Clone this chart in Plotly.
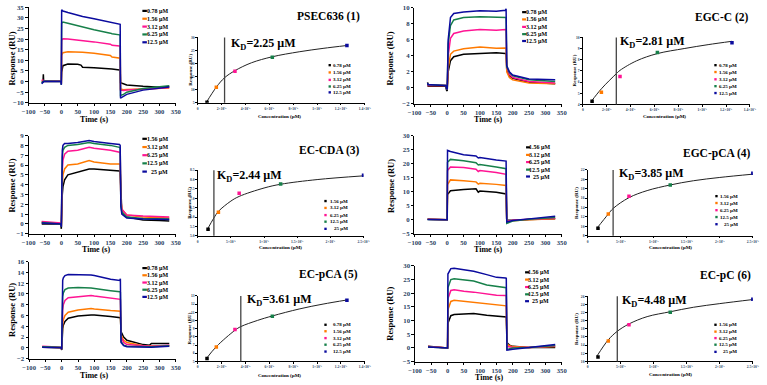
import plotly.graph_objects as go

W, H = 767, 385
SERIF = "Liberation Serif"
series_colors = ["#000000", "#FF7A00", "#FF1493", "#17804A", "#0B0B9E"]

# ---------------- data ----------------
labels_a = ["0.78 µM", "1.56 µM", "3.12 µM", "6.25 µM", "12.5 µM"]
labels_b = ["1.56 µM", "3.12 µM", "6.25 µM", "12.5 µM", "25 µM"]
conc_a = [0.78, 1.56, 3.12, 6.25, 12.5]
conc_b = [1.56, 3.12, 6.25, 12.5, 25]

titles = ["PSEC636 (1)", "EC-CDA (3)", "EC-pCA (5)", "EGC-C (2)", "EGC-pCA (4)", "EC-pC (6)"]
kd_values = [2.25, 2.44, 3.61, 2.81, 3.85, 4.48]

sens_x_ticks = [-100, -50, 0, 50, 100, 150, 200, 250, 300, 350]
conc_ticks_14 = [0, 2, 4, 6, 8, 10, 12, 14]
conc_ticktext_14 = ["0", "2×10⁻⁶", "4×10⁻⁶", "6×10⁻⁶", "8×10⁻⁶", "1×10⁻⁵", "1.2×10⁻⁵", "1.4×10⁻⁵"]
conc_ticks_25 = [0, 5, 10, 15, 20, 25]
conc_ticktext_25 = ["0", "5×10⁻⁶", "1×10⁻⁵", "1.5×10⁻⁵", "2×10⁻⁵", "2.5×10⁻⁵"]

# PSEC636 (1) sensorgram
psec_t = [-60, -56, -55, -54, -1, 0, 1, 5, 20, 50, 60, 65, 100, 150, 155, 178, 180, 181, 190, 200, 250, 300, 330]
psec_r1 = [-0.3, 0, 3.5, 0, 0, -1, 4.5, 7.5, 8.3, 8.2, 7.8, 6.8, 6.5, 6.1, 5.9, 5.5, 5.3, -0.5, -1.2, -1.6, -2.2, -2.6, -2.3]
psec_r2 = [0.5, 0.4, 0.4, 0.4, 0.3, -1, 12.5, 13.6, 14.1, 14.0, 13.9, 13.8, 13.3, 12.3, 11.6, 11.1, 11.0, -3.5, -3.8, -3.7, -3.4, -3.2, -3.0]
psec_r3 = [0.8, 0.6, 0.6, 0.5, 0.3, -1, 19.5, 20.2, 20.0, 19.6, 19.4, 19.3, 18.7, 17.6, 17.1, 16.8, 16.6, -4.0, -4.2, -4.0, -3.4, -3.1, -2.8]
psec_r4 = [-0.8, 0.3, 0.3, 0.3, 0.2, -1.5, 27.5, 28.0, 27.5, 26.3, 26.0, 25.7, 24.4, 22.8, 22.5, 22.0, 21.8, -6.5, -6.0, -5.0, -3.2, -2.4, -2.0]
psec_r5 = [-1.0, 0.0, 0.0, 0.0, 0.0, -1.5, 33.8, 33.2, 32.5, 31.3, 31.0, 30.6, 29.6, 28.1, 27.9, 27.1, 27.0, -7.8, -6.8, -6.0, -4.0, -3.0, -2.5]

# EC-CDA (3) sensorgram
cda_t = [-60, -2, 0, 1, 3, 5, 10, 20, 50, 85, 100, 150, 178, 180, 182, 185, 200, 250, 300, 330]
cda_r1 = [0.0, 0.0, -0.5, 1.5, 3.0, 3.8, 4.5, 5.0, 5.3, 5.6, 5.6, 5.5, 5.4, 5.3, 2.5, 1.2, 0.7, 0.4, 0.35, 0.3]
cda_r2 = [0.2, 0.0, -0.3, 2.0, 4.0, 5.0, 5.6, 6.0, 6.1, 6.45, 6.3, 6.1, 6.1, 6.0, 2.6, 1.5, 0.9, 0.7, 0.65, 0.6]
cda_r3 = [0.25, 0.1, -0.2, 3.0, 5.5, 6.5, 7.1, 7.4, 7.5, 7.8, 7.7, 7.5, 7.3, 7.2, 2.5, 1.5, 0.9, 0.8, 0.75, 0.7]
cda_r4 = [0.15, 0.0, -0.3, 4.0, 6.8, 7.5, 7.8, 8.0, 8.1, 8.3, 8.2, 8.0, 7.8, 7.7, 2.0, 1.2, 0.7, 0.55, 0.5, 0.5]
cda_r5 = [0.1, 0.0, -0.3, 4.5, 7.5, 8.0, 8.2, 8.2, 8.3, 8.5, 8.4, 8.2, 8.1, 8.0, 1.8, 1.0, 0.6, 0.5, 0.5, 0.45]

# EC-pCA (5) sensorgram
ecpca_t = [-60, -2, 0, 1, 3, 5, 10, 20, 50, 90, 100, 150, 178, 180, 182, 190, 200, 250, 270, 275, 330]
ecpca_r1 = [0.1, 0.0, -0.4, 2.0, 3.5, 4.2, 4.9, 5.5, 5.9, 6.1, 6.1, 5.8, 5.6, 5.6, 3.0, 2.0, 1.4, 0.6, 0.5, 0.8, 0.8]
ecpca_r2 = [0.2, 0.0, -0.3, 3.0, 4.5, 5.2, 6.0, 6.6, 7.0, 7.3, 7.2, 6.9, 6.8, 6.8, 2.4, 1.4, 1.0, 0.4, 0.35, 0.35, 0.4]
ecpca_r3 = [0.3, 0.1, -0.2, 4.5, 7.0, 8.0, 8.8, 9.3, 9.5, 9.7, 9.6, 9.2, 9.1, 9.0, 2.0, 1.0, 0.6, 0.3, 0.3, 0.3, 0.5]
ecpca_r4 = [0.2, 0.1, -0.2, 6.0, 9.5, 10.2, 10.8, 11.1, 11.2, 11.1, 11.0, 10.6, 10.4, 10.3, 1.2, 0.5, 0.3, 0.2, 0.2, 0.2, 0.4]
ecpca_r5 = [0.1, 0.0, -0.3, 8.0, 12.5, 13.0, 13.4, 13.6, 13.6, 13.5, 13.4, 12.7, 12.5, 12.8, 1.0, 0.4, 0.2, 0.1, 0.1, 0.1, 0.3]

# EGC-C (2) sensorgram
egcc_t = [-60, -58, -50, -5, -2, 0, 3, 10, 20, 50, 100, 150, 178, 180, 182, 190, 200, 250, 330]
egcc_r1 = [0.7, 0.2, 0.2, 0.2, -0.3, -0.4, 2.0, 3.4, 3.9, 4.2, 4.3, 4.4, 4.3, 4.3, 2.2, 1.5, 1.2, 0.7, 0.5]
egcc_r2 = [0.3, 0.3, 0.3, 0.3, 0.0, -0.2, 2.5, 4.2, 4.6, 4.9, 5.1, 4.95, 5.0, 5.0, 2.0, 1.3, 1.0, 0.6, 0.5]
egcc_r3 = [0.4, 0.3, 0.3, 0.3, 0.0, -0.2, 4.0, 6.2, 6.8, 7.1, 7.3, 7.2, 7.3, 7.2, 2.5, 1.7, 1.3, 0.8, 0.6]
egcc_r4 = [0.5, 0.4, 0.4, 0.3, 0.0, -0.2, 5.5, 7.8, 8.5, 8.8, 8.9, 8.8, 8.8, 8.8, 2.6, 1.9, 1.5, 1.0, 0.8]
egcc_r5 = [0.6, 0.4, 0.4, 0.3, 0.0, -0.2, 6.0, 8.8, 9.3, 9.5, 9.65, 9.6, 9.7, 9.9, 2.8, 2.0, 1.6, 1.1, 1.0]

# EGC-pCA (4) sensorgram
egcpca_t = [-60, -2, 0, 1, 10, 50, 88, 95, 100, 150, 178, 180, 182, 200, 250, 330]
egcpca_r1 = [0.2, 0.0, 0.0, 9.0, 10.3, 10.8, 11.0, 9.8, 10.2, 9.8, 9.3, 9.2, -0.2, -0.2, 0.1, 0.3]
egcpca_r2 = [0.2, 0.0, 0.0, 12.5, 14.2, 13.9, 13.5, 12.7, 13.0, 12.6, 12.3, 12.2, -0.5, -0.3, 0.0, 0.3]
egcpca_r3 = [0.2, 0.0, 0.0, 17.5, 18.8, 18.6, 18.0, 17.2, 17.5, 16.8, 16.3, 16.2, -0.6, -0.2, 0.2, 0.5]
egcpca_r4 = [0.1, 0.0, 0.0, 20.5, 21.5, 21.0, 20.3, 19.5, 19.7, 18.8, 18.3, 18.2, -1.3, -0.5, 0.2, 0.8]
egcpca_r5 = [0.1, 0.0, 0.0, 24.7, 24.3, 23.2, 22.7, 22.0, 22.2, 21.3, 21.0, 20.9, -0.8, -0.3, 0.3, 1.2]

# EC-pC (6) sensorgram
ecpc_t = [-60, -2, 0, 1, 10, 20, 50, 80, 120, 150, 178, 180, 182, 190, 200, 250, 330]
ecpc_r1 = [0.6, 0.0, 0.0, 9.0, 11.8, 12.2, 12.3, 12.6, 12.0, 11.6, 11.4, 11.3, 2.0, 1.0, 0.6, 0.2, 0.2]
ecpc_r2 = [0.5, 0.0, 0.0, 14.0, 17.0, 17.4, 17.0, 16.8, 16.0, 15.6, 15.5, 15.4, 1.5, 0.8, 0.5, 0.2, 0.5]
ecpc_r3 = [0.5, 0.0, 0.0, 18.0, 21.0, 21.3, 20.7, 20.4, 19.7, 19.3, 19.2, 19.1, 0.5, 0.4, 0.3, 0.2, 0.7]
ecpc_r4 = [0.4, 0.0, 0.0, 22.0, 25.0, 25.3, 24.8, 24.5, 23.0, 22.5, 22.1, 22.0, -0.5, -0.2, 0.0, 0.2, 0.9]
ecpc_r5 = [0.4, 0.0, 0.0, 27.0, 29.0, 29.1, 28.5, 28.0, 26.8, 25.8, 25.6, 25.5, -0.8, -0.6, -0.5, 0.2, 1.3]

# steady-state affinity points (response, RU)
psec_eq = [5.25, 11.0, 17.1, 22.4, 26.9]
cda_eq = [5.35, 6.26, 7.27, 7.76, 8.23]
ecpca_eq = [5.36, 6.76, 8.88, 10.52, 12.48]
egcc_eq = [4.29, 5.08, 6.49, 8.65, 9.53]
egcpca_eq = [9.6, 12.6, 16.4, 18.8, 21.3]
ecpc_eq = [11.1, 15.0, 19.0, 22.06, 25.3]

# fitted curves (µM, RU)
psec_fit_c = [0.7, 1.56, 2.25, 3.12, 4.5, 6.25, 8.5, 10.5, 12.5]
psec_fit_r = [5.0, 11.0, 14.6, 17.3, 20.3, 22.6, 24.5, 25.8, 26.9]
cda_fit_c = [1.4, 2.44, 3.12, 5, 6.25, 10, 12.5, 18, 25]
cda_fit_r = [5.3, 5.95, 6.3, 6.85, 7.1, 7.55, 7.75, 8.0, 8.2]
ecpca_fit_c = [0.7, 1.56, 3.12, 3.61, 5, 6.25, 8.5, 10.5, 12.5]
ecpca_fit_r = [5.3, 6.8, 8.8, 9.25, 10.0, 10.55, 11.4, 12.0, 12.5]
egcc_fit_c = [0.7, 1.56, 2.81, 3.12, 4.5, 6.25, 8.5, 10.5, 12.5]
egcc_fit_r = [4.25, 5.4, 6.75, 7.05, 7.9, 8.55, 9.0, 9.35, 9.65]
egcpca_fit_c = [1.4, 3.12, 3.85, 6.25, 9, 12.5, 16, 20, 25]
egcpca_fit_r = [9.6, 12.6, 13.8, 16.1, 17.6, 18.8, 19.7, 20.4, 21.1]
ecpc_fit_c = [1.4, 3.12, 4.48, 6.25, 9, 12.5, 16, 20, 25]
ecpc_fit_r = [11.3, 15.3, 17.4, 19.2, 21.0, 22.2, 23.3, 24.2, 25.2]

# ---------------- assembly ----------------
panels = [
    dict(t=psec_t, rs=[psec_r1, psec_r2, psec_r3, psec_r4, psec_r5], labels=labels_a, conc=conc_a,
         eq=psec_eq, fc=psec_fit_c, fr=psec_fit_r),
    dict(t=cda_t, rs=[cda_r1, cda_r2, cda_r3, cda_r4, cda_r5], labels=labels_b, conc=conc_b,
         eq=cda_eq, fc=cda_fit_c, fr=cda_fit_r),
    dict(t=ecpca_t, rs=[ecpca_r1, ecpca_r2, ecpca_r3, ecpca_r4, ecpca_r5], labels=labels_a, conc=conc_a,
         eq=ecpca_eq, fc=ecpca_fit_c, fr=ecpca_fit_r),
    dict(t=egcc_t, rs=[egcc_r1, egcc_r2, egcc_r3, egcc_r4, egcc_r5], labels=labels_a, conc=conc_a,
         eq=egcc_eq, fc=egcc_fit_c, fr=egcc_fit_r),
    dict(t=egcpca_t, rs=[egcpca_r1, egcpca_r2, egcpca_r3, egcpca_r4, egcpca_r5], labels=labels_b, conc=conc_b,
         eq=egcpca_eq, fc=egcpca_fit_c, fr=egcpca_fit_r),
    dict(t=ecpc_t, rs=[ecpc_r1, ecpc_r2, ecpc_r3, ecpc_r4, ecpc_r5], labels=labels_b, conc=conc_b,
         eq=ecpc_eq, fc=ecpc_fit_c, fr=ecpc_fit_r),
]

# geometry in pixels (layout only)
sens_geo = [
    dict(x=(22, 171.7), y=(3.3, 100.7), yr=(-10, 35), dt=5, tx=(88, 117.5), ty=(5, 55.7),
         lx=(137.7, 142.3), lr=164.5, ly=[7, 15, 23, 31, 39]),
    dict(x=(22, 171.7), y=(134, 234), yr=(-1, 9), dt=1, tx=(90.7, 250.5), ty=(5, 185),
         lx=(137.7, 142.3), lr=164.5, ly=[137.3, 145.7, 154, 162.3, 170.7]),
    dict(x=(22.5, 171.7), y=(262.3, 361.2), yr=(-2, 16), dt=2, tx=(89, 378), ty=(5, 311.7),
         lx=(137.7, 142.3), lr=164.5, ly=[269, 276.3, 283.7, 291, 298.3]),
    dict(x=(414.5, 564.3), y=(4, 101.7), yr=(-2, 10), dt=2, tx=(489.3, 118), ty=(390, 55),
         lx=(524, 528), lr=550.5, ly=[8.3, 15.7, 23.3, 30.7, 37.7]),
    dict(x=(414.5, 564.3), y=(134, 234), yr=(-5, 30), dt=5, tx=(489.3, 250.5), ty=(390, 185),
         lx=(528, 532), lr=553.5, ly=[146, 153.7, 161, 168.7, 175.7]),
    dict(x=(415, 564.3), y=(266.7, 364.3), yr=(-5, 30), dt=5, tx=(490, 380.3), ty=(390, 315),
         lx=(527, 531), lr=552.5, ly=[273.3, 280.7, 288.3, 295.7, 302.7]),
]
ins_geo = [
    dict(x=(194, 364), xr=14, y=(34, 100.7), yr=(5, 30), dt=5, fmt="d",
         title=(326.7, 13), kd=(226.7, 41), ytl=(186.7,), xtl=(276.7, 115),
         mx=328.3, lr=350.7, ly=[62.3, 69.7, 77.3, 84, 90]),
    dict(x=(194, 362.7), xr=25, y=(169.3, 236), yr=(5, 8.5), dt=0.5, fmt=".1f",
         title=(328.3, 149), kd=(212.7, 175), ytl=(186,), xtl=(278.3, 248.3),
         mx=324, lr=348.3, ly=[200.7, 207.7, 215, 221.7, 229]),
    dict(x=(194, 364), xr=14, y=(297.3, 364), yr=(5, 13), dt=1, fmt="d",
         title=(327.5, 276), kd=(243.3, 301.7), ytl=(186,), xtl=(276.7, 378.3),
         mx=324, lr=350.7, ly=[326.7, 333.3, 340.3, 347, 354]),
    dict(x=(585.7, 755.7), xr=14, y=(34, 102.3), yr=(4, 10), dt=1, fmt="d",
         title=(727.5, 14), kd=(622.3, 38.3), ytl=(577.3,), xtl=(669, 115),
         mx=720.7, lr=744, ly=[62.3, 69.3, 76.7, 83.7, 90.7]),
    dict(x=(590.7, 758.7), xr=25, y=(169, 236), yr=(8, 22), dt=2, fmt="d",
         title=(722.5, 152.3), kd=(621.7, 173.3), ytl=(580,), xtl=(675, 248.3),
         mx=721.7, lr=745, ly=[195.7, 202.7, 210, 217, 224.3]),
    dict(x=(590.7, 758.7), xr=25, y=(297.7, 364), yr=(10, 26), dt=2, fmt="d",
         title=(730.8, 276.7), kd=(624.3, 302), ytl=(580,), xtl=(675, 377.7),
         mx=720.7, lr=744, ly=[326.7, 333.7, 340.3, 347, 354.3]),
]


def fx(px):
    return px / W


def fy(py):
    return 1 - py / H


def ann(text, px, py, size, xanchor="center", yanchor="middle", angle=0, weight="bold"):
    return dict(text=text, x=fx(px), y=fy(py), xref="paper", yref="paper", showarrow=False,
                xanchor=xanchor, yanchor=yanchor, textangle=angle, borderpad=0,
                font=dict(family=SERIF, size=size, color="#000", weight=weight))


fig = go.Figure()
layout = dict(width=W, height=H, margin=dict(l=0, r=0, t=0, b=0), autosize=False,
              paper_bgcolor="white", plot_bgcolor="white", showlegend=False)
annotations = []
shapes = []

axis_common = dict(showgrid=False, zeroline=False, showline=True, linecolor="#000", linewidth=1,
                   ticks="outside", tickcolor="#000", tickwidth=1, mirror=False, tickangle=0)

for k, (p, sg, ig) in enumerate(zip(panels, sens_geo, ins_geo)):
    a = 2 * k + 1
    b = 2 * k + 2
    xa, ya = f"x{a}", f"y{a}"
    xb, yb = f"x{b}", f"y{b}"

    # ---- sensorgram axes
    layout[f"xaxis{a}"] = dict(axis_common, domain=[fx(sg["x"][0]), fx(sg["x"][1])], anchor=ya,
                               range=[-100, 350], tickvals=sens_x_ticks, ticklen=2,
                               tickfont=dict(family=SERIF, size=6.6, weight="bold"))
    layout[f"yaxis{a}"] = dict(axis_common, domain=[fy(sg["y"][1]), fy(sg["y"][0])], anchor=xa,
                               range=list(sg["yr"]), dtick=sg["dt"], tick0=0, ticklen=2.5,
                               tickfont=dict(family=SERIF, size=6.8, weight="bold"))
    for i in range(5):
        fig.add_trace(go.Scatter(x=p["t"], y=p["rs"][i], mode="lines", xaxis=xa, yaxis=ya,
                                 line=dict(color=series_colors[i], width=1.5), hoverinfo="skip"))
        yy = sg["ly"][i]
        shapes.append(dict(type="line", xref="paper", yref="paper", x0=fx(sg["lx"][0]), x1=fx(sg["lx"][1]),
                           y0=fy(yy), y1=fy(yy), line=dict(color=series_colors[i], width=2.2)))
        annotations.append(ann(p["labels"][i], sg["lr"], yy, 6, xanchor="right"))
    annotations.append(ann("Time (s)", sg["tx"][0], sg["tx"][1], 8))
    annotations.append(ann("Response (RU)", sg["ty"][0], sg["ty"][1], 8.5, angle=-90))

    # ---- affinity inset axes
    if ig["xr"] == 14:
        tv, tt = conc_ticks_14, conc_ticktext_14
    else:
        tv, tt = conc_ticks_25, conc_ticktext_25
    layout[f"xaxis{b}"] = dict(axis_common, domain=[fx(ig["x"][0]), fx(ig["x"][1])], anchor=yb,
                               range=[0, ig["xr"]], tickvals=tv, ticktext=tt, ticklen=1.5,
                               tickfont=dict(family=SERIF, size=3.6, weight="bold"))
    layout[f"yaxis{b}"] = dict(axis_common, domain=[fy(ig["y"][1]), fy(ig["y"][0])], anchor=xb,
                               range=list(ig["yr"]), dtick=ig["dt"], tick0=0, ticklen=1.5,
                               tickformat=ig["fmt"] if ig["fmt"] != "d" else None,
                               tickfont=dict(family=SERIF, size=3.6, weight="bold"))
    fig.add_trace(go.Scatter(x=p["fc"], y=p["fr"], mode="lines", line=dict(color="#222", width=1, shape="spline"),
                             xaxis=xb, yaxis=yb, hoverinfo="skip"))
    fig.add_trace(go.Scatter(x=p["conc"], y=p["eq"], mode="markers", xaxis=xb, yaxis=yb,
                             marker=dict(color=series_colors, size=3.5, symbol="square"), hoverinfo="skip"))
    kd = kd_values[k]
    shapes.append(dict(type="line", xref=xb, yref=f"{yb} domain", x0=kd, x1=kd, y0=0, y1=1,
                       line=dict(color="#444", width=1.3)))
    annotations.append(ann(f"K<sub>D</sub>={kd:.2f} µM", ig["kd"][0], ig["kd"][1], 12, xanchor="left"))
    annotations.append(ann(titles[k], ig["title"][0], ig["title"][1], 11.5))
    ymid = (ig["y"][0] + ig["y"][1]) / 2
    annotations.append(ann("Response (RU)", ig["ytl"][0], ymid, 5, angle=-90))
    annotations.append(ann("Concentration (µM)", ig["xtl"][0], ig["xtl"][1], 5))
    for i in range(5):
        yy = ig["ly"][i]
        shapes.append(dict(type="rect", xref="paper", yref="paper",
                           x0=fx(ig["mx"] - 1.2), x1=fx(ig["mx"] + 1.2), y0=fy(yy + 1.2), y1=fy(yy - 1.2),
                           fillcolor=series_colors[i], line=dict(width=0)))
        annotations.append(ann(p["labels"][i], ig["lr"], yy, 5, xanchor="right"))

layout["annotations"] = annotations
layout["shapes"] = shapes
fig.update_layout(**layout)
fig.write_html("out.html", config={"displayModeBar": False},
               post_script="document.body.style.margin='0';document.body.style.padding='0';"
                           "document.body.style.overflow='hidden';")
